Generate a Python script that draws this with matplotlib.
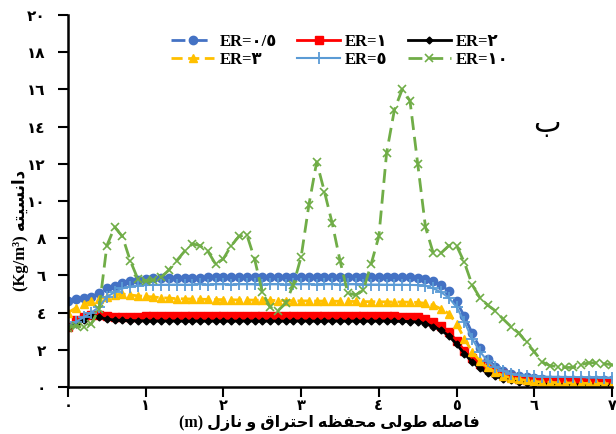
import numpy as np
import matplotlib
matplotlib.use("Agg")
import matplotlib.pyplot as plt

# distance along chamber and nozzle (m), one reading every 0.1 m
x = np.round(np.arange(0, 7.01, 0.1), 1)

er_05 = [4.65, 4.72, 4.78, 4.85, 5.05, 5.3, 5.45, 5.6, 5.7, 5.78,
         5.82, 5.84, 5.85, 5.86, 5.87, 5.87, 5.88, 5.88, 5.89, 5.89,
         5.9, 5.9, 5.9, 5.91, 5.9, 5.91, 5.91, 5.9, 5.9, 5.91,
         5.92, 5.91, 5.91, 5.92, 5.92, 5.91, 5.92, 5.92, 5.91, 5.92,
         5.92, 5.92, 5.91, 5.91, 5.9, 5.88, 5.8, 5.7, 5.5, 5.15,
         4.6, 3.8, 2.9, 2.1, 1.5, 1.1, 0.85, 0.7, 0.6, 0.52,
         0.47, 0.43, 0.4, 0.39, 0.38, 0.38, 0.37, 0.37, 0.36, 0.36, 0.35]

er_1 = [3.2, 3.6, 3.75, 3.85, 3.85, 3.8, 3.78, 3.78, 3.79, 3.79,
        3.8, 3.8, 3.8, 3.8, 3.81, 3.8, 3.8, 3.81, 3.8, 3.8,
        3.8, 3.81, 3.8, 3.8, 3.8, 3.81, 3.8, 3.8, 3.8, 3.8,
        3.8, 3.8, 3.81, 3.8, 3.8, 3.8, 3.8, 3.81, 3.8, 3.8,
        3.8, 3.8, 3.8, 3.79, 3.78, 3.75, 3.65, 3.5, 3.3, 2.95,
        2.5, 1.95, 1.55, 1.25, 1.0, 0.82, 0.68, 0.55, 0.45, 0.38,
        0.33, 0.3, 0.28, 0.27, 0.26, 0.25, 0.25, 0.24, 0.23, 0.23, 0.22]

er_2 = [3.2, 3.4, 3.6, 3.85, 3.75, 3.65, 3.6, 3.58, 3.57, 3.56,
        3.56, 3.55, 3.55, 3.55, 3.55, 3.54, 3.55, 3.55, 3.54, 3.55,
        3.55, 3.54, 3.55, 3.55, 3.55, 3.54, 3.55, 3.55, 3.54, 3.55,
        3.55, 3.55, 3.54, 3.55, 3.55, 3.55, 3.54, 3.55, 3.55, 3.54,
        3.55, 3.55, 3.54, 3.53, 3.52, 3.5, 3.4, 3.25, 3.05, 2.75,
        2.3, 1.8, 1.35, 1.0, 0.75, 0.57, 0.45, 0.35, 0.28, 0.22,
        0.18, 0.16, 0.14, 0.13, 0.12, 0.12, 0.11, 0.11, 0.1, 0.1, 0.1]

er_3 = [4.0, 4.25, 4.45, 4.6, 4.75, 4.85, 4.95, 5.0, 4.95, 4.9,
        4.87, 4.84, 4.8, 4.78, 4.75, 4.74, 4.73, 4.72, 4.71, 4.7,
        4.7, 4.69, 4.68, 4.68, 4.67, 4.66, 4.66, 4.65, 4.65, 4.64,
        4.63, 4.63, 4.62, 4.62, 4.61, 4.61, 4.6, 4.6, 4.59, 4.59,
        4.58, 4.58, 4.57, 4.57, 4.56, 4.55, 4.5, 4.4, 4.2, 3.95,
        3.4, 2.6, 1.9, 1.4, 1.05, 0.8, 0.6, 0.5, 0.42, 0.35,
        0.3, 0.27, 0.25, 0.23, 0.22, 0.21, 0.2, 0.19, 0.19, 0.18, 0.18]

er_5 = [3.3, 3.5, 3.75, 4.0, 4.3, 4.85, 5.1, 5.3, 5.4, 5.45,
        5.48, 5.49, 5.5, 5.5, 5.51, 5.5, 5.51, 5.52, 5.51, 5.52,
        5.52, 5.51, 5.52, 5.52, 5.52, 5.51, 5.52, 5.52, 5.51, 5.52,
        5.52, 5.52, 5.51, 5.52, 5.52, 5.51, 5.52, 5.52, 5.51, 5.51,
        5.51, 5.5, 5.5, 5.5, 5.49, 5.48, 5.45, 5.3, 5.1, 4.8,
        4.3, 3.5, 2.6, 1.9, 1.4, 1.05, 0.85, 0.72, 0.65, 0.6,
        0.57, 0.56, 0.55, 0.55, 0.54, 0.54, 0.53, 0.52, 0.52, 0.51, 0.5]

er_10 = [3.15, 3.3, 3.2, 3.4, 4.2, 7.6, 8.6, 8.1, 6.8, 5.8,
         5.7, 5.75, 5.9, 6.3, 6.8, 7.3, 7.7, 7.6, 7.3, 6.6,
         6.9, 7.6, 8.1, 8.2, 6.9, 5.1, 4.3, 4.1, 4.5, 5.5,
         7.0, 9.8, 12.1, 10.5, 8.8, 6.8, 5.05, 4.95, 5.2, 6.6,
         8.1, 12.6, 14.9, 16.0, 15.4, 12.0, 8.6, 7.2, 7.2, 7.6,
         7.6, 6.7, 5.5, 4.8, 4.4, 4.1, 3.65, 3.25, 2.9, 2.4,
         1.9, 1.35, 1.15, 1.1, 1.05, 1.05, 1.2, 1.3, 1.3, 1.25, 1.2]

# Arabic-Indic digits for the ticks
x_ticks = [0, 1, 2, 3, 4, 5, 6, 7]
x_labels = ["\u0660", "\u0661", "\u0662", "\u0663", "\u0664", "\u0665", "\u0666", "\u0667"]
y_ticks = [0, 2, 4, 6, 8, 10, 12, 14, 16, 18, 20]
y_labels = ["\u0660", "\u0662", "\u0664", "\u0666", "\u0668", "\u0661\u0660",
            "\u0661\u0662", "\u0661\u0664", "\u0661\u0666", "\u0661\u0668", "\u0662\u0660"]

# persian text written in presentation forms, visual (left to right) order
xlabel = ("(m) " + "\ufedd\ufeaf\ufe8e\ufee7" + " " + "\ufeed" + " "
          + "\ufed5\ufe8d\ufeae\ufe98\ufea3\ufe8d" + " " + "\ufeea\ufec8\ufed4\ufea4\ufee3"
          + " " + "\ufef0\ufedf\ufeee\ufec3" + " " + "\ufeea\ufee0\ufebb\ufe8e\ufed3")
ylabel = "(Kg/m\u00b3) " + "\ufeea\ufe98\ufef4\ufeb4\ufee7\ufe8d\ufea9"

mixed = ["Liberation Serif", "DejaVu Sans"]

fig = plt.figure(figsize=(6.16, 4.34), dpi=100)
ax = fig.add_axes([0.1104, 0.1083, 0.8831, 0.857])

l05, = ax.plot(x, er_05, color="#4472C4", ls=(0, (5, 3)), lw=2, marker="o", ms=6, label="ER=\u0660/\u0665")
l1, = ax.plot(x, er_1, color="#FF0000", ls="-", lw=2, marker="s", ms=5.5, label="ER=\u0661")
l2, = ax.plot(x, er_2, color="black", ls="-", lw=2, marker="D", ms=3.5, label="ER=\u0662")
l3, = ax.plot(x, er_3, color="#FFC000", ls=(0, (4, 2)), lw=2, marker="^", ms=6, label="ER=\u0663")
l5, = ax.plot(x, er_5, color="#5B9BD5", ls="-", lw=1.5, marker="+", ms=8, mew=1.3, label="ER=\u0665")
l10, = ax.plot(x, er_10, color="#70AD47", ls=(0, (5, 2.5)), lw=2, marker="x", ms=6, mew=1.2, label="ER=\u0661\u0660")

ax.set_xlim(0, 7)
ax.set_ylim(0, 20)
ax.set_xticks(x_ticks)
ax.set_xticklabels(x_labels, family="DejaVu Sans", fontweight="bold", fontsize=10.5)
ax.set_yticks(y_ticks)
ax.set_yticklabels(y_labels, family="DejaVu Sans", fontweight="bold", fontsize=11)
ax.tick_params(direction="out", length=7, width=1.5)
ax.tick_params(axis="y", pad=9)
ax.tick_params(axis="x", pad=1)
for s in ["top", "right"]:
    ax.spines[s].set_visible(False)
for s in ["left", "bottom"]:
    ax.spines[s].set_linewidth(1.8)

ax.set_xlabel(xlabel, family=mixed, fontweight="bold", fontsize=11.5)
ax.xaxis.set_label_coords(0.48, -0.076)
ax.set_ylabel(ylabel, family=mixed, fontweight="bold", fontsize=12)
ax.yaxis.set_label_coords(-0.072, 0.42)

ax.text(0.855, 0.685, "\u0628", transform=ax.transAxes, fontsize=21, family="DejaVu Sans")

# legend rows: 0.5 1 2 / 3 5 10  (legend fills by column)
handles = [l05, l3, l1, l5, l2, l10]
leg = ax.legend(handles, [h.get_label() for h in handles], ncol=3, frameon=False,
                loc="upper center", bbox_to_anchor=(0.5, 0.99), handlelength=2.6,
                handletextpad=0.3, columnspacing=1.2, labelspacing=0.15,
                prop={"family": mixed, "weight": "bold", "size": 12})

fig.savefig("out.png", dpi=100)
